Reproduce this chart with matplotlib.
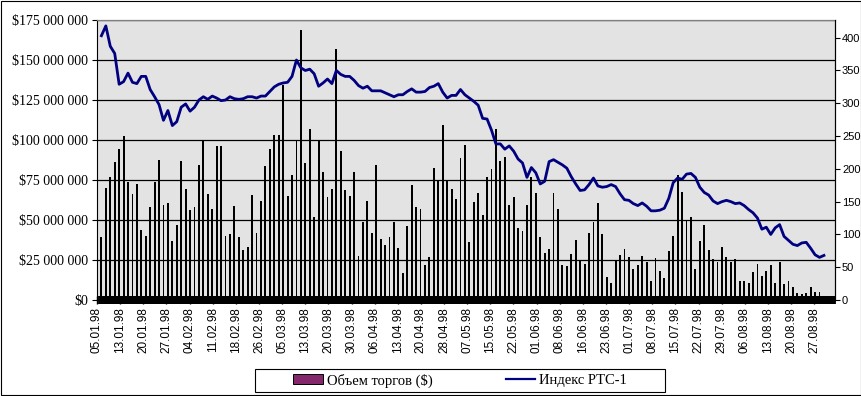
import numpy as np
import matplotlib
matplotlib.use("Agg")
import matplotlib.pyplot as plt
from matplotlib.patches import Patch, Rectangle
from matplotlib.lines import Line2D
from matplotlib.ticker import FuncFormatter, MultipleLocator

# объем торгов, млн $ (по торговым дням)
volume_mln = [
    39.6, 69.8, 76.7, 86.5, 94.4, 102.5, 73.5, 66.2, 72.5, 43.7, 40.2, 58.1, 73.7, 87.5,
    59.4, 60.4, 36.9, 46.9, 86.9, 69.6, 56.2, 58.1, 84.4, 99.4, 66.2, 56.9, 96.2, 96.2,
    40.2, 41.2, 58.7, 39.4, 31.2, 33.1, 65.6, 41.9, 61.9, 83.7, 94.4, 103.1, 103.1, 134.4,
    65.0, 78.1, 99.4, 168.8, 85.6, 106.9, 51.9, 99.4, 80.2, 64.4, 69.6, 156.9, 93.1,
    68.7, 65.0, 80.0, 27.5, 48.7, 61.9, 41.9, 84.4, 38.1, 34.4, 39.4, 48.7, 32.5, 17.1,
    46.2, 71.9, 58.1, 56.9, 21.9, 26.9, 82.5, 74.4, 109.4, 74.4, 69.4, 63.1, 88.7,
    96.9, 36.2, 61.2, 66.9, 53.1, 76.9, 81.9, 106.9, 86.9, 89.4, 59.4, 64.4, 45.0, 43.1,
    59.4, 76.9, 66.9, 39.4, 29.4, 31.9, 66.9, 56.9, 21.9, 21.2, 28.7, 37.5, 24.8,
    22.5, 41.7, 48.7, 60.4, 41.2, 14.6, 10.6, 24.4, 28.1, 31.9, 26.9, 19.4, 21.9, 27.5,
    23.7, 11.9, 26.2, 18.1, 13.7, 30.6, 40.0, 78.1, 67.5, 49.6, 51.9, 19.4, 36.9, 46.9,
    31.2, 25.6, 23.7, 33.1, 26.9, 23.7, 25.6, 11.9, 11.9, 10.6, 17.5, 22.5, 15.0, 18.1,
    21.9, 10.6, 23.7, 10.0, 11.9, 8.1, 4.4, 3.7, 4.4, 8.1, 5.0, 5.0,
]

# индекс РТС-1
rts_index = [
    403, 418, 387, 376, 329, 333, 346, 332, 330, 341, 341, 321, 310, 298, 274, 289, 266,
    272, 294, 299, 288, 294, 305, 310, 306, 311, 308,
    304, 305, 310, 307, 306, 307, 310, 310, 308, 311, 311, 318, 325, 329, 331, 332, 341,
    366, 354, 350, 352, 345, 326, 331, 337, 330, 350,
    344, 341, 341, 335, 327, 323, 326, 319, 319, 319, 316, 313, 310, 313, 313, 318, 322,
    317, 317, 318, 324, 326, 330, 317, 308, 312, 312,
    321, 313, 308, 303, 297, 277, 276, 259, 238, 238, 230, 235, 227, 215, 209, 187, 202,
    194, 177, 181, 211, 214, 210, 206, 201, 188, 177,
    167, 168, 176, 186, 174, 172, 173, 176, 173, 162, 153, 152, 147, 144, 148, 143, 136,
    136, 137, 140, 155, 179, 186, 184, 192, 193, 187, 172, 164, 160, 151, 147, 150, 152,
    150, 147, 148, 144, 138, 133, 125, 108, 111, 100, 110, 115, 97, 91, 85, 83, 87, 88,
    79, 69, 65, 68,
]

date_labels = [
    "05.01.98", "13.01.98", "20.01.98", "27.01.98", "04.02.98", "11.02.98", "18.02.98",
    "26.02.98", "05.03.98", "13.03.98", "20.03.98", "30.03.98", "06.04.98", "13.04.98",
    "20.04.98", "28.04.98", "07.05.98", "15.05.98", "22.05.98", "01.06.98", "08.06.98",
    "16.06.98", "23.06.98", "01.07.98", "08.07.98", "15.07.98", "22.07.98", "29.07.98",
    "06.08.98", "13.08.98", "20.08.98", "27.08.98",
]

n_days = 166  # торговых дней с 05.01 по 31.08

serif = "Liberation Serif"
sans = "Liberation Sans"

fig = plt.figure(figsize=(8.62, 3.96), dpi=100)
ax = fig.add_axes([0.1125, 0.2424, 0.8562, 0.7071])
ax.set_facecolor("#e3e3e3")

vol = np.array(volume_mln) * 1e6
ax.bar(np.arange(len(vol)), vol, width=0.42, color="black", zorder=3)

ax.set_xlim(-0.5, n_days - 0.5)
ax.set_ylim(0, 175e6)
ax.yaxis.set_major_locator(MultipleLocator(25e6))
ax.yaxis.set_major_formatter(FuncFormatter(lambda v, p: "$" + f"{v:,.0f}".replace(",", " ")))
ax.grid(axis="y", color="black", linewidth=0.9, zorder=1)
ax.set_axisbelow(True)

# подписи дат и плотные риски оси категорий
ax.set_xticks(np.arange(n_days), minor=True)
ax.set_xticks(-1.0 + 5.22 * np.arange(len(date_labels)))
ax.set_xticklabels(date_labels, rotation=90, fontsize=8.5, family=sans)
ax.tick_params(axis="x", which="minor", direction="inout", length=5.5, width=4.2, color="black")
ax.tick_params(axis="x", which="major", direction="inout", length=5.5, width=1, pad=2.5)
ax.tick_params(axis="y", direction="out", length=3.5, width=0.8, pad=3)
for lab in ax.get_yticklabels():
    lab.set_family(serif)
    lab.set_fontsize(10)

for side in ["left", "right", "bottom"]:
    ax.spines[side].set_color("black")
    ax.spines[side].set_linewidth(0.8)
ax.spines["top"].set_color("#808080")
ax.spines["top"].set_linewidth(0.9)

ax2 = ax.twinx()
ax2.plot(np.arange(len(rts_index)), rts_index, color="#000080", linewidth=2.0, zorder=4)
ax2.set_ylim(0, 427)
ax2.yaxis.set_major_locator(MultipleLocator(50))
ax2.tick_params(axis="y", direction="out", length=3.5, width=0.8, pad=1.5, labelsize=8)
for lab in ax2.get_yticklabels():
    lab.set_family(sans)
for side in ["top", "bottom", "left"]:
    ax2.spines[side].set_visible(False)
ax2.spines["right"].set_color("black")
ax2.spines["right"].set_linewidth(0.8)

# легенда
handles = [
    Patch(facecolor="#85286b", edgecolor="black", linewidth=0.7),
    Line2D([], [], color="#000080", linewidth=1.6),
]
fig.legend(handles, ["Объем торгов ($)", "Индекс РТС-1"], loc="center",
           bbox_to_anchor=(0.534, 0.039), ncol=2, frameon=False,
           prop={"family": serif, "size": 10.5}, handlelength=2.0, handleheight=0.7,
           handletextpad=0.3, columnspacing=5.0)
fig.add_artist(Rectangle((0.2958, 0.0101), 0.4756, 0.058, transform=fig.transFigure,
                         fill=False, edgecolor="black", linewidth=0.8))
fig.add_artist(Rectangle((0.0006, 0.0013), 0.9988, 0.9974, transform=fig.transFigure,
                         fill=False, edgecolor="black", linewidth=0.8))

fig.savefig("out.png", dpi=100)
